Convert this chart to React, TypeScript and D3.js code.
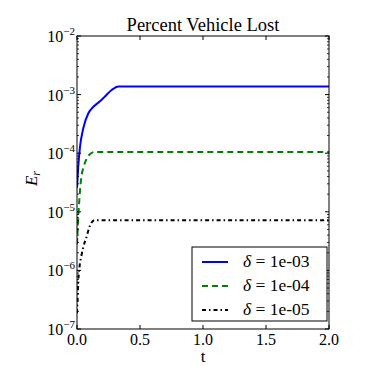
import React, { useRef, useEffect } from "react";
import * as d3 from "d3";

// values
const tBlue = [0, 0.01, 0.024, 0.05, 0.09, 0.13, 0.18, 0.22, 0.275, 0.33, 2.0];
const eBlue = [2.57e-5, 5.9e-5, 1.29e-4, 2.66e-4, 4.8e-4, 6.2e-4, 7.6e-4, 9.2e-4, 1.2e-3, 1.38e-3, 1.38e-3];

const tGreen = [0, 0.01, 0.02, 0.035, 0.05, 0.075, 0.1, 0.14, 2.0];
const eGreen = [2.8e-6, 7.9e-6, 1.78e-5, 4.0e-5, 5.6e-5, 7.9e-5, 9.5e-5, 1.05e-4, 1.05e-4];

const tBlack = [0, 0.005, 0.01, 0.02, 0.035, 0.05, 0.077, 0.1, 0.14, 2.0];
const eBlack = [1.86e-7, 3.5e-7, 6.3e-7, 1.15e-6, 1.78e-6, 2.5e-6, 3.8e-6, 5.6e-6, 7.2e-6, 7.2e-6];

const xTicks = [0, 0.5, 1.0, 1.5, 2.0];
const xTickLabels = ["0.0", "0.5", "1.0", "1.5", "2.0"];
const yExponents = [-7, -6, -5, -4, -3, -2];
const legendLabels = ["1e-03", "1e-04", "1e-05"];

const App = () => {
  const ref = useRef<SVGSVGElement>(null);

  useEffect(() => {
    document.body.style.margin = "0";
    const width = 366, height = 366;
    const left = 77, right = 329, top = 36, bottom = 329;
    const font = "'Liberation Serif', serif";

    const svg = d3.select(ref.current);
    svg.selectAll("*").remove();
    svg.attr("width", width).attr("height", height).style("display", "block").style("background", "#fff");

    const x = d3.scaleLinear().domain([0, 2]).range([left, right]);
    const y = d3.scaleLog().domain([1e-7, 1e-2]).range([bottom, top]);

    const series = [
      { t: tBlue, e: eBlue, color: "#0000ff", dash: null },
      { t: tGreen, e: eGreen, color: "#008000", dash: "6,4" },
      { t: tBlack, e: eBlack, color: "#000000", dash: "4,3,1.5,3" },
    ];

    const line = d3.line<[number, number]>()
      .x(d => x(d[0]))
      .y(d => y(d[1]))
      .curve(d3.curveMonotoneX);

    svg.append("defs").append("clipPath").attr("id", "plotclip")
      .append("rect").attr("x", left).attr("y", top).attr("width", right - left).attr("height", bottom - top);

    series.forEach(s => {
      svg.append("path")
        .attr("d", line(s.t.map((t, i) => [t, s.e[i]] as [number, number])))
        .attr("fill", "none")
        .attr("stroke", s.color)
        .attr("stroke-width", 2)
        .attr("stroke-dasharray", s.dash)
        .attr("clip-path", "url(#plotclip)");
    });

    // frame
    svg.append("rect")
      .attr("x", left).attr("y", top).attr("width", right - left).attr("height", bottom - top)
      .attr("fill", "none").attr("stroke", "#000").attr("stroke-width", 1);

    // x ticks top and bottom, inward
    xTicks.forEach((t, i) => {
      const xx = x(t);
      svg.append("line").attr("x1", xx).attr("x2", xx).attr("y1", bottom).attr("y2", bottom - 4).attr("stroke", "#000");
      svg.append("line").attr("x1", xx).attr("x2", xx).attr("y1", top).attr("y2", top + 4).attr("stroke", "#000");
      svg.append("text")
        .attr("x", xx).attr("y", bottom + 16)
        .attr("text-anchor", "middle")
        .attr("font-family", font).attr("font-size", 16)
        .text(xTickLabels[i]);
    });

    // y ticks, major and minor, both sides
    yExponents.forEach(p => {
      const yy = y(Math.pow(10, p));
      svg.append("line").attr("x1", left).attr("x2", left + 4).attr("y1", yy).attr("y2", yy).attr("stroke", "#000");
      svg.append("line").attr("x1", right).attr("x2", right - 4).attr("y1", yy).attr("y2", yy).attr("stroke", "#000");
      const label = svg.append("text")
        .attr("x", left - 2).attr("y", yy + 6)
        .attr("text-anchor", "end")
        .attr("font-family", font).attr("font-size", 16);
      label.append("tspan").text("10");
      label.append("tspan").attr("dy", -7).attr("font-size", 11).text("\u2212" + Math.abs(p));
      if (p < -2) {
        for (let m = 2; m < 10; m++) {
          const ym = y(m * Math.pow(10, p));
          svg.append("line").attr("x1", left).attr("x2", left + 2).attr("y1", ym).attr("y2", ym).attr("stroke", "#000").attr("stroke-width", 0.8);
          svg.append("line").attr("x1", right).attr("x2", right - 2).attr("y1", ym).attr("y2", ym).attr("stroke", "#000").attr("stroke-width", 0.8);
        }
      }
    });

    // title
    svg.append("text")
      .attr("x", (left + right) / 2).attr("y", 31)
      .attr("text-anchor", "middle")
      .attr("font-family", font).attr("font-size", 18.5)
      .text("Percent Vehicle Lost");

    // x label
    svg.append("text")
      .attr("x", (left + right) / 2).attr("y", 362)
      .attr("text-anchor", "middle")
      .attr("font-family", font).attr("font-size", 17)
      .text("t");

    // y label
    const yl = svg.append("text")
      .attr("transform", `translate(37,${(top + bottom) / 2 - 4}) rotate(-90)`)
      .attr("text-anchor", "middle")
      .attr("font-family", font).attr("font-size", 17).attr("font-style", "italic");
    yl.append("tspan").text("E");
    yl.append("tspan").attr("font-size", 12).attr("dy", 3).text("r");

    // legend
    const lx = 192, ly = 247, lw = 135, lh = 74;
    svg.append("rect")
      .attr("x", lx).attr("y", ly).attr("width", lw).attr("height", lh)
      .attr("fill", "#fff").attr("stroke", "#000").attr("stroke-width", 1);
    series.forEach((s, i) => {
      const yy = ly + 15 + i * 24;
      svg.append("line")
        .attr("x1", lx + 10).attr("x2", lx + 36).attr("y1", yy).attr("y2", yy)
        .attr("stroke", s.color).attr("stroke-width", 2).attr("stroke-dasharray", s.dash);
      const txt = svg.append("text")
        .attr("x", lx + 51).attr("y", yy + 5)
        .attr("font-family", font).attr("font-size", 17.5);
      txt.append("tspan").attr("font-style", "italic").text("\u03b4");
      txt.append("tspan").text(" = " + legendLabels[i]);
    });
  }, []);

  return (
    <div>
      <svg ref={ref} />
    </div>
  );
};

export default App;
